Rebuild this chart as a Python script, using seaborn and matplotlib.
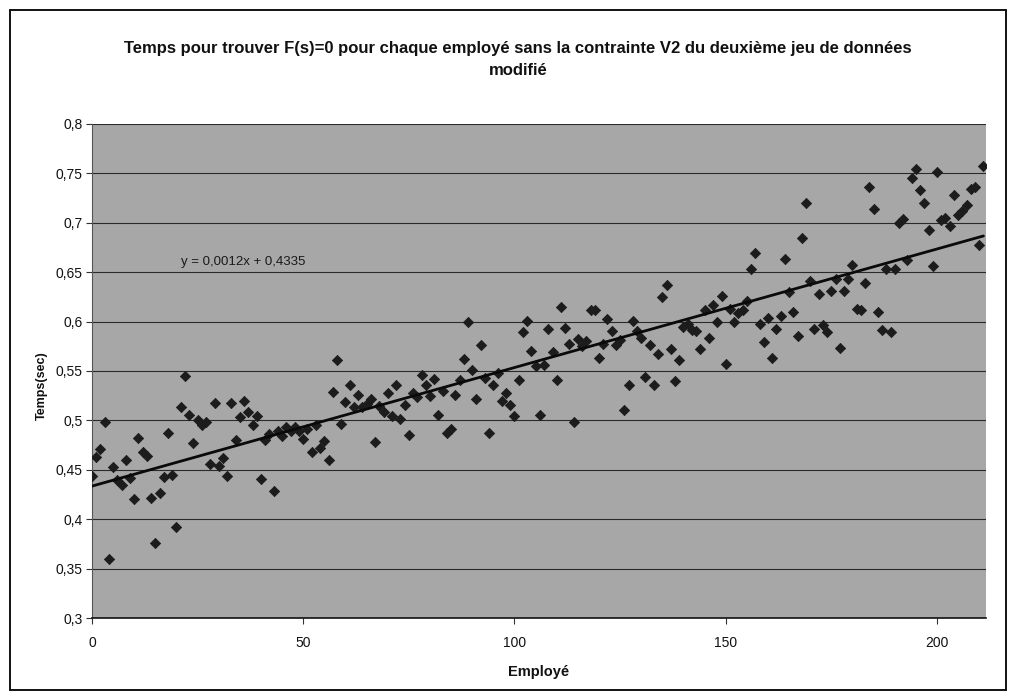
import numpy as np
import pandas as pd
import matplotlib
matplotlib.use("Agg")
import matplotlib.pyplot as plt
from matplotlib.ticker import FuncFormatter
from matplotlib.patches import Rectangle
import seaborn as sns

# Time (sec) needed to find F(s)=0 for each employee, in employee order
temps = [
    0.444, 0.463, 0.471, 0.498, 0.360, 0.453, 0.440, 0.435, 0.460, 0.442,
    0.420, 0.482, 0.468, 0.464, 0.421, 0.376, 0.427, 0.443, 0.487, 0.445,
    0.392, 0.514, 0.545, 0.505, 0.477, 0.500, 0.495, 0.498, 0.456, 0.518,
    0.454, 0.462, 0.444, 0.518, 0.480, 0.503, 0.520, 0.508, 0.495, 0.504,
    0.441, 0.480, 0.486, 0.429, 0.489, 0.484, 0.493, 0.489, 0.493, 0.489,
    0.481, 0.491, 0.468, 0.495, 0.472, 0.479, 0.460, 0.529, 0.561, 0.496,
    0.519, 0.536, 0.514, 0.526, 0.514, 0.517, 0.522, 0.478, 0.515, 0.508,
    0.528, 0.504, 0.536, 0.501, 0.516, 0.485, 0.528, 0.524, 0.546, 0.536,
    0.525, 0.542, 0.505, 0.530, 0.487, 0.491, 0.526, 0.541, 0.562, 0.600,
    0.551, 0.522, 0.576, 0.543, 0.487, 0.536, 0.548, 0.520, 0.528, 0.516,
    0.504, 0.541, 0.589, 0.601, 0.570, 0.555, 0.505, 0.556, 0.593, 0.569,
    0.541, 0.615, 0.594, 0.577, 0.498, 0.582, 0.575, 0.580, 0.612, 0.612,
    0.563, 0.577, 0.603, 0.590, 0.576, 0.581, 0.511, 0.536, 0.601, 0.590,
    0.583, 0.544, 0.576, 0.536, 0.567, 0.625, 0.637, 0.572, 0.540, 0.561,
    0.595, 0.598, 0.592, 0.590, 0.572, 0.612, 0.583, 0.617, 0.600, 0.626,
    0.557, 0.613, 0.600, 0.609, 0.612, 0.621, 0.653, 0.669, 0.598, 0.579,
    0.604, 0.563, 0.593, 0.606, 0.663, 0.630, 0.610, 0.585, 0.685, 0.720,
    0.641, 0.593, 0.628, 0.597, 0.589, 0.631, 0.643, 0.573, 0.631, 0.643,
    0.657, 0.613, 0.612, 0.639, 0.736, 0.714, 0.610, 0.592, 0.653, 0.589,
    0.653, 0.700, 0.704, 0.662, 0.745, 0.754, 0.733, 0.720, 0.693, 0.656,
    0.751, 0.703, 0.705, 0.697, 0.728, 0.708, 0.712, 0.718, 0.734, 0.736,
    0.678, 0.757,
]
employes = list(range(len(temps)))

# Linear trend line coefficients
pente = 0.0012
ordonnee = 0.4335

titre = ("Temps pour trouver F(s)=0 pour chaque employé sans la contrainte V2 "
         "du deuxième jeu de données\nmodifié")
label_x = "Employé"
label_y = "Temps(sec)"
y_ticks = [0.3, 0.35, 0.4, 0.45, 0.5, 0.55, 0.6, 0.65, 0.7, 0.75, 0.8]
x_ticks = [0, 50, 100, 150, 200]

df = pd.DataFrame({"Employé": employes, "Temps": temps})
x_fit = np.array([employes[0], employes[-1]], dtype=float)
df_fit = pd.DataFrame({"Employé": x_fit, "Temps": pente * x_fit + ordonnee})

sns.set_style("white")
plt.rcParams["font.family"] = ["Liberation Sans", "DejaVu Sans"]

W, H = 1012, 698
fig = plt.figure(figsize=(W / 100, H / 100), dpi=100)
fig.patch.set_facecolor("white")

# plot area in pixel terms
left, right, top, bottom = 92, 986, 124, 618
ax = fig.add_axes([left / W, 1 - bottom / H, (right - left) / W, (bottom - top) / H])
ax.set_facecolor("#a7a7a7")

sns.scatterplot(data=df, x="Employé", y="Temps", ax=ax, marker="D", s=27,
                color="#1c1c1c", edgecolor="#1c1c1c", linewidth=0.6, zorder=3)
sns.lineplot(data=df_fit, x="Employé", y="Temps", ax=ax, color="#0a0a0a",
             linewidth=2.0, zorder=4)

ax.set_xlim(0, 211.6)
ax.set_ylim(0.3, 0.8)
ax.set_xticks(x_ticks)
ax.set_yticks(y_ticks)

fmt = FuncFormatter(lambda v, p: f"{round(v, 2):g}".replace(".", ","))
ax.yaxis.set_major_formatter(fmt)
ax.xaxis.set_major_formatter(fmt)
ax.grid(axis="y", color="#2a2a2a", linewidth=0.8)
ax.grid(axis="x", visible=False)
ax.set_axisbelow(True)

ax.tick_params(axis="both", which="major", direction="out", length=4, width=0.8,
               color="#333333", labelsize=10, labelcolor="#111111", pad=3,
               bottom=True, left=True)
ax.tick_params(axis="x", pad=9)
for side in ("top", "right"):
    ax.spines[side].set_visible(False)
ax.spines["left"].set_color("#555555")
ax.spines["left"].set_linewidth(0.8)
ax.spines["bottom"].set_color("#111111")
ax.spines["bottom"].set_linewidth(1.2)

ax.set_xlabel(label_x, fontsize=10.5, fontweight="bold", color="#111111")
ax.xaxis.label.set_va("center")
ax.xaxis.set_label_coords(0.5, (bottom - 672) / (bottom - top))
ax.set_ylabel(label_y, fontsize=9, fontweight="bold", color="#111111")
ax.yaxis.label.set_va("center")
ax.yaxis.set_label_coords((41.5 - left) / (right - left), (bottom - 386) / (bottom - top))

# trend line equation
eq = f"y = {pente:g}x + {ordonnee:g}".replace(".", ",")
ax.text(21.0, 0.6605, eq, fontsize=9.5, color="#1a1a1a", va="center", ha="left")

fig.text(518 / W, 1 - 59.5 / H, titre, ha="center", va="center", fontsize=12,
         fontweight="bold", color="#111111", linespacing=1.65)

# outer chart frame
fig.patches.append(Rectangle((10 / W, 1 - 690 / H), 996 / W, 680 / H,
                             transform=fig.transFigure, fill=False,
                             edgecolor="#111111", linewidth=1.4))

fig.savefig("out.png", dpi=100, facecolor="white")
